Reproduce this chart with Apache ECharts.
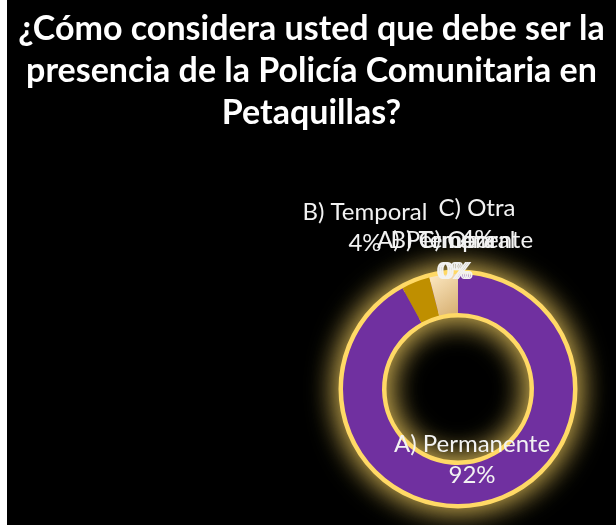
<!DOCTYPE html>
<html>
<head>
<meta charset="utf-8">
<script src="https://cdn.jsdelivr.net/npm/echarts@6/dist/echarts.min.js"></script>
<style>
  html, body { margin: 0; padding: 0; background: #fff; }
  #pie { position: absolute; left: 7px; top: 0; width: 609px; height: 525px; background: #000; }
</style>
</head>
<body>
<div id="pie"></div>
<script>
// data
var titleLines = ['¿Cómo considera usted que debe ser la', 'presencia de la Policía Comunitaria en', 'Petaquillas?'];
var categories = ['A) Permanente', 'B) Temporal', 'C) Otra', 'A) Permanente', 'B) Temporal', 'C) Otra'];
var values = [92, 4, 4, 0, 0, 0];

var colors = [
  '#7030a0',
  '#bf8f00',
  { type: 'linear', x: 0, y: 0, x2: 1, y2: 1, colorStops: [{ offset: 0, color: '#fde9c2' }, { offset: 1, color: '#d6ae70' }] },
  '#7030a0', '#bf8f00', '#f2d49a'
];
// where each label sits (chart pixels), Excel placed them by hand
var labelSpots = [[465, 460], [358, 228], [470, 224], [448, 256], [446, 256], [450, 256]];

var myChart = echarts.init(document.getElementById('pie'));

var option = {
  backgroundColor: '#000',
  title: {
    text: titleLines.join('\n'),
    left: 'center',
    top: 3,
    textStyle: { color: '#fff', fontFamily: 'Lato', fontWeight: 'bold', fontSize: 34, lineHeight: 42 }
  },
  series: [
    {
      // glowing ring underneath
      type: 'pie',
      silent: true,
      center: [451, 389],
      radius: [76, 115],
      label: { show: false },
      itemStyle: { color: '#7030a0', borderColor: '#ffd966', borderWidth: 9, shadowBlur: 30, shadowColor: '#ffd966' },
      data: [1],
      z: 1
    },
    {
      type: 'pie',
      center: [451, 389],
      radius: [76, 115],
      startAngle: 90,
      clockwise: true,
      avoidLabelOverlap: false,
      labelLine: { show: false },
      label: {
        show: true,
        formatter: '{b}\n{d}%',
        color: '#f2f2f2',
        fontFamily: 'Lato',
        fontSize: 24,
        lineHeight: 31,
        align: 'center'
      },
      labelLayout: function (p) {
        var s = labelSpots[p.dataIndex];
        return { x: s[0], y: s[1], align: 'center', verticalAlign: 'middle' };
      },
      data: categories.map(function (c, i) {
        return { name: c, value: values[i], itemStyle: { color: colors[i] } };
      }),
      z: 2
    }
  ]
};
myChart.setOption(option);
</script>
</body>
</html>
